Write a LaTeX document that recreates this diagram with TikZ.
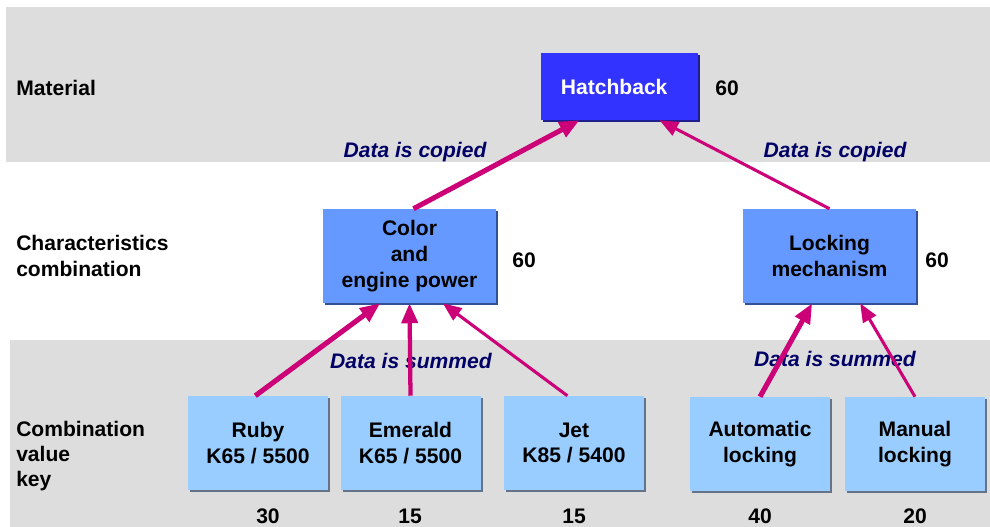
\documentclass[tikz,border=0pt]{standalone}
\usepackage{fontspec}
\setmainfont{Liberation Sans}
\usetikzlibrary{arrows.meta,shadows,calc}
\definecolor{band}{RGB}{221,221,221}
\definecolor{hatchfill}{RGB}{51,51,255}
\definecolor{hatchshadow}{RGB}{30,30,140}
\definecolor{midfill}{RGB}{102,153,255}
\definecolor{midshadow}{RGB}{50,80,150}
\definecolor{lowfill}{RGB}{153,204,255}
\definecolor{lowshadow}{RGB}{100,115,135}
\definecolor{arrowcol}{RGB}{204,0,119}
\definecolor{navy}{RGB}{0,0,102}
\tikzset{
  txt/.style={font=\fontsize{15.8}{18.8}\selectfont\bfseries, inner sep=0pt},
  boxtxt/.style={font=\fontsize{15.8}{19.4}\selectfont\bfseries, inner sep=0pt},
  datalabel/.style={txt, font=\fontsize{15.8}{18.8}\selectfont\bfseries\itshape, text=navy},
  hatchbox/.style={boxtxt, fill=hatchfill, text=white, minimum width=117.75pt, minimum height=50.25pt, align=center,
     general shadow={fill=hatchshadow, shadow xshift=1.6pt, shadow yshift=-1.6pt}},
  midbox/.style={boxtxt, fill=midfill, minimum width=129.75pt, minimum height=70.5pt, align=center,
     general shadow={fill=midshadow, shadow xshift=1.6pt, shadow yshift=-1.6pt}},
  lowbox/.style={boxtxt, fill=lowfill, minimum width=105pt, minimum height=70.5pt, align=center,
     general shadow={fill=lowshadow, shadow xshift=1.6pt, shadow yshift=-1.6pt}},
  thickarrow/.style={draw=arrowcol, line width=3.8pt, -{Triangle[length=15pt,width=12pt]}},
  thinarrow/.style={draw=arrowcol, line width=2.3pt, -{Triangle[length=14pt,width=11pt]}},
}
\begin{document}
\begin{tikzpicture}[x=0.75pt,y=-0.75pt]
\useasboundingbox (0,0) rectangle (990,527);
% bands
\fill[band] (6,7) rectangle (990,162);
\fill[band] (10,340) rectangle (990,527);
% row labels
\node[txt, anchor=west] (lmat) at (16,88) {Material};
\node[txt, anchor=west, align=left] (lchar) at (16,256) {Characteristics\\combination};
\node[txt, anchor=west, align=left] (lcomb) at (16,456) {Combination\\value\\key};
% data labels
\node[datalabel] (dc1) at (415,152) {Data is copied};
\node[datalabel] (dc2) at (835,152) {Data is copied};
\node[datalabel] (ds1) at (411,361) {Data is summed};
\node[datalabel] (ds2) at (835,359) {Data is summed};
% boxes
\node[hatchbox] (hatch) at (619.5,86.5) {Hatchback\hspace*{8pt}};
\node[midbox] (color) at (409.5,256) {Color\\and\\engine power};
\node[midbox] (lock) at (829.5,256) {Locking\\mechanism};
\node[lowbox] (ruby) at (258,443) {Ruby\\K65 / 5500};
\node[lowbox] (emerald) at (410.5,443) {Emerald\\K65 / 5500};
\node[lowbox] (jet) at (574,443) {Jet\\K85 / 5400};
\node[lowbox] (auto) at (760,444) {Automatic\\locking};
\node[lowbox] (manual) at (915,444) {Manual\\locking};
% numbers
\node[txt] (nhatch) at (727,88) {60};
\node[txt] (ncolor) at (524,260) {60};
\node[txt] (nlock) at (937,260) {60};
\node[txt] (nruby) at (268,516) {30};
\node[txt] (nemerald) at (410,516) {15};
\node[txt] (njet) at (574,516) {15};
\node[txt] (nauto) at (760,516) {40};
\node[txt] (nmanual) at (915,516) {20};
% arrows
\draw[thickarrow] ([xshift=3pt]color.north) -- ([xshift=-30pt]hatch.south);
\draw[thinarrow] (lock.north) -- ([xshift=30pt]hatch.south);
\draw[thickarrow] ([xshift=-2pt]ruby.north) -- ([xshift=-22pt]color.south);
\draw[thickarrow, line width=3.2pt] (emerald.north) -- (color.south);
\draw[thinarrow] ([xshift=-5pt]jet.north) -- ([xshift=25pt]color.south);
\draw[thickarrow] (auto.north) -- ([xshift=-13pt]lock.south);
\draw[thinarrow] (manual.north) -- ([xshift=23pt]lock.south);
\end{tikzpicture}
\end{document}
